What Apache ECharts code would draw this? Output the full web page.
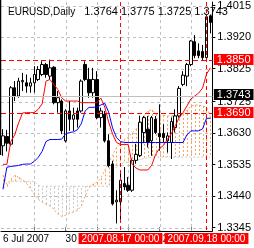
<!DOCTYPE html>
<html><head><meta charset="utf-8">
<script src="https://cdn.jsdelivr.net/npm/echarts@6/dist/echarts.min.js"></script>
<style>html,body{margin:0;padding:0;background:#fff}#c{width:254px;height:248px}</style>
</head><body><div id="c"></div>
<script>
const dates = ['2007.07.06','2007.07.09','2007.07.10','2007.07.11','2007.07.12','2007.07.13','2007.07.16','2007.07.17','2007.07.18','2007.07.19','2007.07.20','2007.07.23','2007.07.24','2007.07.25','2007.07.26','2007.07.27','2007.07.30','2007.07.31','2007.08.01','2007.08.02','2007.08.03','2007.08.06','2007.08.07','2007.08.08','2007.08.09','2007.08.10','2007.08.13','2007.08.14','2007.08.15','2007.08.16','2007.08.17','2007.08.20','2007.08.21','2007.08.22','2007.08.23','2007.08.24','2007.08.27','2007.08.28','2007.08.29','2007.08.30','2007.08.31','2007.09.03','2007.09.04','2007.09.05','2007.09.06','2007.09.07','2007.09.10','2007.09.11','2007.09.12','2007.09.13','2007.09.14','2007.09.17','2007.09.18','2007.09.19'];
// [open, close, low, high]
const ohlc = [
[1.3592,1.3622,1.3562,1.3642],[1.3620,1.3600,1.3575,1.3640],[1.3597,1.3767,1.3592,1.3772],[1.3767,1.3742,1.3727,1.3787],
[1.3742,1.3787,1.3737,1.3797],[1.3785,1.3789,1.3757,1.3812],[1.3782,1.3772,1.3752,1.3807],[1.3772,1.3782,1.3752,1.3797],
[1.3782,1.3807,1.3752,1.3832],[1.3792,1.3822,1.3787,1.3832],[1.3807,1.3837,1.3802,1.3847],[1.3837,1.3807,1.3797,1.3842],
[1.3802,1.3827,1.3792,1.3852],[1.3829,1.3722,1.3717,1.3832],[1.3722,1.3737,1.3692,1.3757],[1.3727,1.3637,1.3627,1.3732],
[1.3607,1.3697,1.3602,1.3702],[1.3697,1.3672,1.3637,1.3727],[1.3672,1.3685,1.3637,1.3707],[1.3697,1.3672,1.3647,1.3707],
[1.3697,1.3787,1.3692,1.3792],[1.3837,1.3792,1.3787,1.3847],[1.3792,1.3752,1.3737,1.3827],[1.3752,1.3792,1.3737,1.3827],
[1.3792,1.3677,1.3672,1.3817],[1.3677,1.3697,1.3647,1.3707],[1.3687,1.3607,1.3602,1.3697],[1.3607,1.3532,1.3527,1.3627],
[1.3537,1.3417,1.3412,1.3547],[1.3423,1.3428,1.3358,1.3458],[1.3423,1.3488,1.3363,1.3518],[1.3478,1.3468,1.3458,1.3528],
[1.3473,1.3458,1.3453,1.3498],[1.3458,1.3548,1.3453,1.3553],[1.3548,1.3566,1.3538,1.3598],[1.3563,1.3663,1.3558,1.3683],
[1.3632,1.3677,1.3600,1.3682],[1.3642,1.3602,1.3587,1.3682],[1.3607,1.3677,1.3562,1.3682],[1.3672,1.3632,1.3627,1.3682],
[1.3629,1.3619,1.3577,1.3717],[1.3629,1.3617,1.3602,1.3657],[1.3607,1.3622,1.3572,1.3632],[1.3602,1.3665,1.3552,1.3677],
[1.3647,1.3682,1.3632,1.3702],[1.3682,1.3765,1.3677,1.3772],[1.3777,1.3805,1.3772,1.3817],[1.3802,1.3837,1.3772,1.3842],
[1.3837,1.3908,1.3832,1.3911],[1.3906,1.3864,1.3856,1.3926],[1.3878,1.3864,1.3856,1.3901],[1.3876,1.3858,1.3851,1.3896],
[1.3858,1.3981,1.3851,1.3986],[1.3984,1.3964,1.3931,1.3988]
];
const tenkan = [1.3536,1.3536,1.3605,1.3625,1.3661,1.3691,1.3692,1.3692,1.3692,1.3702,1.3718,1.3787,1.3792,1.3777,1.3762,1.3737,1.3727,1.3727,1.3727,1.3727,1.3722,1.3722,1.3722,1.3722,1.3722,1.3736,1.3709,1.3664,1.3628,1.3602,1.3596,1.3596,1.3596,1.3536,1.3525,1.3519,1.3519,1.3519,1.3533,1.3566,1.3584,1.3593,1.3611,1.3628,1.3652,1.3676,1.3692,1.3712,1.3733,1.3742,1.3751,1.3766,1.3808,1.3827];
const kijun = [1.3461,1.3527,1.3530,1.3531,1.3533,1.3536,1.3537,1.3537,1.3545,1.3557,1.3575,1.3605,1.3611,1.3611,1.3611,1.3612,1.3628,1.3632,1.3634,1.3640,1.3658,1.3697,1.3708,1.3708,1.3709,1.3715,1.3720,1.3694,1.3646,1.3617,1.3605,1.3602,1.3602,1.3602,1.3602,1.3602,1.3602,1.3602,1.3602,1.3602,1.3602,1.3602,1.3602,1.3602,1.3602,1.3602,1.3602,1.3625,1.3637,1.3637,1.3637,1.3643,1.3675,1.3675];
const spanA = [1.3503,1.3476,1.3491,1.3503,1.3497,1.3488,1.3479,1.3464,1.3446,1.3431,1.3422,1.3416,1.3410,1.3401,1.3386,1.3379,1.3383,1.3388,1.3392,1.3397,1.3410,1.3440,1.3467,1.3477,1.3482,1.3494,1.3518,1.3539,1.3563,1.3587,1.3599,1.3611,1.3617,1.3631,1.3643,1.3661,1.3682,1.3697,1.3700,1.3688,1.3685,1.3684,1.3682,1.3682,1.3682,1.3685,1.3688,1.3700,1.3712,1.3715,1.3715,1.3712,1.3709,1.3679];
const spanB = [1.3467,1.3467,1.3485,1.3485,1.3485,1.3485,1.3485,1.3485,1.3485,1.3473,1.3470,1.3470,1.3470,1.3470,1.3470,1.3470,1.3470,1.3470,1.3470,1.3470,1.3470,1.3470,1.3470,1.3470,1.3470,1.3470,1.3470,1.3470,1.3524,1.3527,1.3536,1.3542,1.3542,1.3545,1.3548,1.3551,1.3554,1.3555,1.3558,1.3558,1.3558,1.3558,1.3558,1.3558,1.3558,1.3558,1.3558,1.3558,1.3558,1.3558,1.3558,1.3558,1.3558,1.3558];
const yTicks = [1.4015,1.3920,1.3825,1.3725,1.3630,1.3535,1.3440,1.3345];
const levels = [1.3850, 1.3690];
const bidPrice = 1.3743;
const markerDates = ['2007.08.17','2007.09.18'];
const symbolName = 'EURUSD,Daily';
const headerOHLC = ['1.3764','1.3775','1.3725','1.3743'];
const gridEvery = 8, labelEvery = 16;
const months = ['Jan','Feb','Mar','Apr','May','Jun','Jul','Aug','Sep','Oct','Nov','Dec'];

const NARROW = '"Liberation Sans Narrow","Arial Narrow","Liberation Sans",sans-serif';
const ORANGE = '#F4A460', THISTLE = '#C8C8C8', GRID = '#C0C0C0';
const Y_MIN = 1.33351, Y_MAX = 1.40255;

function fmtDate(d){ const p=d.split('.'); return (+p[2])+' '+months[+p[1]-1]+' '+p[0]; }
const crisp = v => Math.round(v)+0.5;

const chart = echarts.init(document.getElementById('c'), null, {renderer:'canvas'});
const vGridIdx = dates.map((d,i)=>i).filter(i=> i>0 && i%gridEvery===0);
const cloud = dates.map((d,i)=>[i, spanA[i], spanB[i]]);
const levelItems = levels.map(v=>[0, v]).concat([[0, bidPrice]]);
const markerItems = markerDates.map(d=>[dates.indexOf(d), Y_MIN]);

function hLine(cs, y, color, dash){
  return {type:'line',shape:{x1:cs.x,y1:y,x2:cs.x+cs.width,y2:y},style:{stroke:color,lineWidth:1,lineDash:dash}};
}

chart.setOption({
  animation:false,
  title:{text:'{a|'+symbolName+'}{b|'+headerOHLC.join(' ')+'}',left:3,top:1,
    textStyle:{fontWeight:'normal',
      rich:{a:{fontSize:10,fontWeight:'normal',fontFamily:'"Liberation Sans",sans-serif',color:'#000',padding:[0,9,0,0],lineHeight:12,verticalAlign:'middle'},
            b:{fontSize:11,fontWeight:'normal',fontFamily:NARROW,color:'#000',lineHeight:12,verticalAlign:'middle'}}}},
  graphic:[{type:'line',silent:true,z:20,shape:{x1:0.5,y1:0,x2:0.5,y2:155},style:{stroke:'#000',lineWidth:1.5}}],
  grid:{left:-0.7,width:216,top:0,height:231},
  xAxis:{type:'category',data:dates,boundaryGap:true,
    axisLine:{show:true,lineStyle:{color:'#000',width:1}},
    axisTick:{show:true,inside:true,length:4,alignWithLabel:true,interval:(i)=>i>0&&i%gridEvery===0,lineStyle:{color:'#808080'}},
    axisLabel:{show:true,interval:(i)=>i%labelEvery===0,formatter:(v)=>fmtDate(v),align:'left',margin:3,color:'#000',fontSize:10,fontFamily:NARROW},
    splitLine:{show:false}},
  yAxis:{type:'value',position:'right',min:Y_MIN,max:Y_MAX,scale:true,
    axisLine:{show:true,lineStyle:{color:'#000',width:1}},
    axisTick:{show:true,length:3,customValues:yTicks,lineStyle:{color:'#000'}},
    axisLabel:{show:true,customValues:yTicks,formatter:(v)=>v.toFixed(4),margin:5,color:'#000',fontSize:11,fontFamily:NARROW},
    splitLine:{show:false}},
  series:[
    {type:'custom',name:'hgrid',z:1,silent:true,clip:false,data:yTicks.map(v=>[0,v]),
      renderItem:(params,api)=>hLine(params.coordSys, crisp(api.coord([0,api.value(1)])[1]), GRID, [3,3])},
    {type:'custom',name:'vgrid',z:1,silent:true,clip:false,data:vGridIdx.map(i=>[i,Y_MIN]),
      renderItem:(params,api)=>{const cs=params.coordSys;const x=crisp(api.coord([api.value(0),Y_MIN])[0]);
        return {type:'line',shape:{x1:x,y1:cs.y,x2:x,y2:cs.y+cs.height},style:{stroke:GRID,lineWidth:1,lineDash:[3,3]}};}},
    {type:'custom',name:'cloud',z:2,silent:true,data:cloud,encode:{x:0,y:[1,2]},
      renderItem:function(params,api){
        const k=api.value(0),a=api.value(1),b=api.value(2);
        const p1=api.coord([k,a]),p2=api.coord([k,b]);
        const x=crisp(p1[0]);
        return {type:'line',shape:{x1:x,y1:p1[1],x2:x,y2:p2[1]},
          style:{stroke:a>=b?ORANGE:THISTLE,lineWidth:1,lineDash:[2,2]}};
      }},
    {type:'line',name:'Senkou Span B',data:spanB,symbol:'none',z:3,lineStyle:{color:THISTLE,width:1,type:[2,2]}},
    {type:'line',name:'Senkou Span A',data:spanA,symbol:'none',z:3,lineStyle:{color:ORANGE,width:1,type:[2,2]}},
    {type:'candlestick',name:'EURUSD',data:ohlc,z:5,barWidth:3,
      itemStyle:{color:'#fff',color0:'#000',borderColor:'#000',borderColor0:'#000',borderWidth:1}},
    {type:'line',name:'Tenkan-sen',data:tenkan,symbol:'none',z:6,lineStyle:{color:'#FF0000',width:1}},
    {type:'line',name:'Kijun-sen',data:kijun,symbol:'none',z:6,lineStyle:{color:'#0000FF',width:1}},
    {type:'custom',name:'levels',z:8,silent:true,clip:false,data:levelItems,
      renderItem:(params,api)=>{
        const cs=params.coordSys, v=api.value(1), isBid=params.dataIndex>=levels.length;
        const y=crisp(api.coord([0,v])[1]);
        return {type:'group',children:[
          hLine(cs,y,isBid?GRID:'#FF0000',isBid?null:[5,3]),
          {type:'text',x:cs.x+cs.width+1.5,y:y-(isBid?2:1),z2:10,
            style:{text:v.toFixed(4),fill:'#fff',backgroundColor:isBid?'#000':'#FF0000',padding:[1,3,0,3],
              font:'11px '+NARROW,verticalAlign:'middle',align:'left',lineHeight:10}}
        ]};
      }},
    {type:'custom',name:'markers',z:8,silent:true,clip:false,data:markerItems,
      renderItem:(params,api)=>{
        const cs=params.coordSys;
        const x=crisp(api.coord([api.value(0),Y_MIN])[0]);
        return {type:'group',children:[
          {type:'line',shape:{x1:x,y1:cs.y,x2:x,y2:cs.y+cs.height},style:{stroke:'#FF0000',lineWidth:1,lineDash:[4,3]}},
          {type:'text',x:x,y:cs.y+cs.height+2,z2:10,
            style:{text:markerDates[params.dataIndex]+' 00:00',fill:'#fff',backgroundColor:'#FF0000',padding:[1,3,0,3],
              font:'10px '+NARROW,verticalAlign:'top',align:'center',lineHeight:10}}
        ]};
      }}
  ]
});
</script></body></html>
